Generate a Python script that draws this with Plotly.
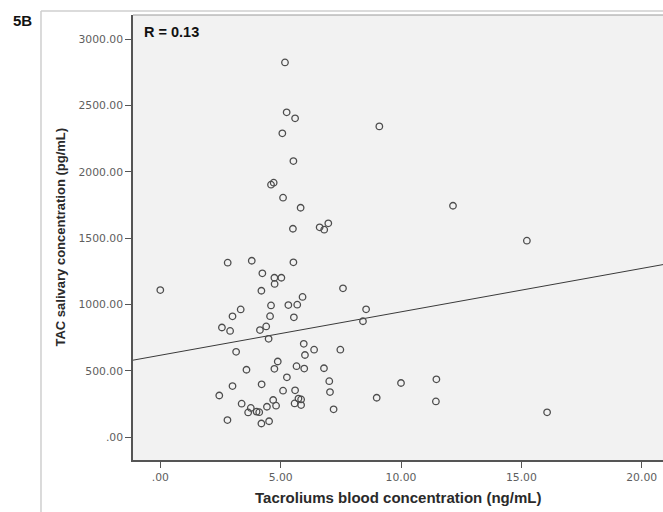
import plotly.graph_objects as go

# Tacrolimus blood concentration (ng/mL) per sample
tac_blood = [
    5.18, 5.25, 5.60, 5.07, 9.10, 5.53, 4.60, 4.71, 5.10, 5.83,
    12.16, 5.51, 6.62, 6.81, 6.98, 15.23, 2.80, 3.80, 5.53, 4.24,
    4.74, 5.03, 4.75, 7.59, 0.00, 4.20, 5.91, 4.60, 5.32, 5.69,
    3.34, 3.00, 4.56, 5.55, 8.55, 8.42, 2.56, 2.90, 4.14, 4.40,
    4.50, 3.15, 5.96, 6.01, 6.39, 7.48, 4.88, 4.74, 3.58, 5.66,
    5.98, 6.80, 5.26, 7.02, 3.00, 4.21, 2.45, 5.10, 5.60, 7.05,
    8.99, 10.00, 11.47, 11.45, 7.20, 16.07, 4.69, 5.74, 5.85, 5.58,
    5.85, 3.38, 3.76, 3.65, 4.00, 4.11, 4.43, 4.81, 2.79, 4.20,
    4.52,
]

# TAC salivary concentration (pg/mL) per sample
tac_saliva = [
    2824, 2448, 2403, 2290, 2342, 2081, 1903, 1918, 1805, 1729,
    1744, 1571, 1582, 1564, 1612, 1481, 1315, 1330, 1318, 1235,
    1202, 1202, 1155, 1122, 1109, 1104, 1057, 993, 996, 999,
    963, 911, 912, 904, 964, 874, 827, 801, 808, 835,
    742, 644, 704, 620, 660, 660, 571, 516, 509, 536,
    518, 520, 452, 423, 386, 399, 315, 351, 354, 341,
    298, 409, 437, 270, 211, 188, 281, 292, 285, 255,
    243, 253, 221, 187, 193, 189, 230, 238, 130, 104,
    121,
]

# Linear fit line (saliva = intercept + slope * blood)
fit_intercept = 618.0
fit_slope = 32.7
r_label = "R = 0.13"

x_tick_vals = [0, 5, 10, 15, 20]
x_tick_text = [".00", "5.00", "10.00", "15.00", "20.00"]
y_tick_vals = [0, 500, 1000, 1500, 2000, 2500, 3000]
y_tick_text = [".00", "500.00", "1000.00", "1500.00", "2000.00", "2500.00", "3000.00"]

x_range = [-1.134, 20.885]
y_range = [-171, 3181]

fig = go.Figure()

fig.add_trace(go.Scatter(
    x=x_range,
    y=[fit_intercept + fit_slope * v for v in x_range],
    mode="lines",
    line=dict(color="#3a3a3a", width=1),
    hoverinfo="skip",
    showlegend=False,
))

fig.add_trace(go.Scatter(
    x=tac_blood,
    y=tac_saliva,
    mode="markers",
    marker=dict(symbol="circle-open", size=6.5,
                color="#4d4d4d", line=dict(color="#4d4d4d", width=1.3)),
    showlegend=False,
))

tick_font = dict(family="DejaVu Sans", size=10.8, color="#5e5e5e")
axis_common = dict(
    showgrid=False, zeroline=False, showline=True,
    linecolor="#555555", linewidth=1.5,
    ticks="outside", ticklen=6, tickwidth=1.2, tickcolor="#555555",
    tickfont=tick_font,
)

fig.update_xaxes(range=x_range, tickvals=x_tick_vals, ticktext=x_tick_text,
                 **axis_common)
fig.update_yaxes(range=y_range, tickvals=y_tick_vals, ticktext=y_tick_text,
                 **axis_common)

title_font = "Liberation Sans"

fig.update_layout(
    width=663, height=512,
    margin=dict(l=133, r=0, t=15, b=52, pad=0),
    paper_bgcolor="white",
    plot_bgcolor="#f2f2f2",
    shapes=[
        # outer panel frame
        dict(type="line", xref="paper", yref="paper",
             x0=-0.1736, x1=-0.1736, y0=1.009, y1=-0.2,
             line=dict(color="#cfcfcf", width=1.5)),
        dict(type="line", xref="paper", yref="paper",
             x0=-0.1736, x1=1.05, y0=1.009, y1=1.009,
             line=dict(color="#cfcfcf", width=1.5)),
        # top edge of plot area
        dict(type="line", xref="paper", yref="paper",
             x0=0, x1=1.05, y0=1, y1=1,
             line=dict(color="#9a9a9a", width=1)),
    ],
    annotations=[
        dict(text="<b>5B</b>", xref="paper", yref="paper",
             x=0, y=1, xshift=-111, yshift=-5,
             xanchor="center", yanchor="middle", showarrow=False,
             font=dict(family=title_font, size=15, color="#111111")),
        dict(text="<b>%s</b>" % r_label, xref="paper", yref="paper",
             x=0, y=1, xshift=9, yshift=-17,
             xanchor="left", yanchor="middle", showarrow=False,
             font=dict(family=title_font, size=14.5, color="#111111")),
        dict(text="<b>Tacroliums blood concentration (ng/mL)</b>",
             xref="paper", yref="paper", x=0.5, y=0, yshift=-37,
             xanchor="center", yanchor="middle", showarrow=False,
             font=dict(family=title_font, size=15, color="#2a2a2a")),
        dict(text="<b>TAC salivary concentration (pg/mL)</b>",
             xref="paper", yref="paper", x=0, y=0.5, xshift=-73,
             xanchor="center", yanchor="middle", showarrow=False,
             textangle=-90,
             font=dict(family=title_font, size=13, color="#2a2a2a")),
    ],
)

fig.write_html("out.html")
